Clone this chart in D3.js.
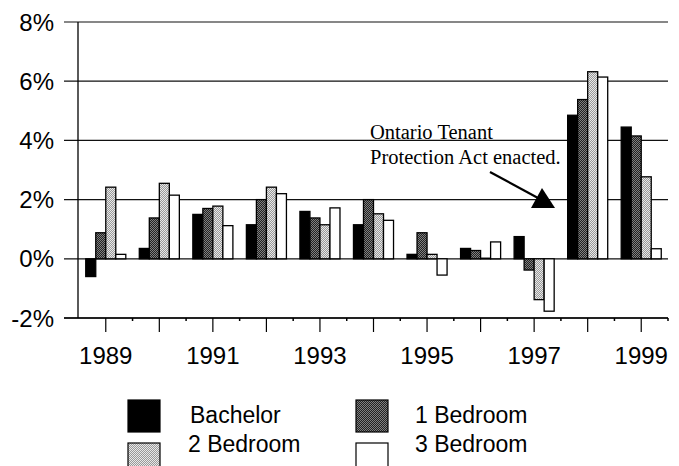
<!DOCTYPE html>
<html><head><meta charset="utf-8">
<script src="https://cdn.jsdelivr.net/npm/d3@7"></script>
<style>body{margin:0;background:#fff}svg{display:block}</style>
</head><body>
<svg id="c" width="679" height="466"></svg>
<script>
const years = ["1989","1990","1991","1992","1993","1994","1995","1996","1997","1998","1999"];
const tickYears = ["1989","1991","1993","1995","1997","1999"];
const seriesNames = ["Bachelor","1 Bedroom","2 Bedroom","3 Bedroom"];
const bachelor = [-0.6, 0.35, 1.5, 1.15, 1.6, 1.15, 0.15, 0.35, 0.75, 4.85, 4.45];
const bed1 = [0.88, 1.38, 1.7, 2.0, 1.38, 2.0, 0.88, 0.28, -0.38, 5.38, 4.15];
const bed2 = [2.42, 2.55, 1.78, 2.42, 1.15, 1.52, 0.15, 0.02, -1.38, 6.32, 2.77];
const bed3 = [0.15, 2.15, 1.12, 2.2, 1.72, 1.3, -0.55, 0.57, -1.77, 6.14, 0.34];
const yTicks = [-2, 0, 2, 4, 6, 8];
const annotation = ["Ontario Tenant", "Protection Act enacted."];

const seriesValues = [bachelor, bed1, bed2, bed3];
const svg = d3.select("#c");
const defs = svg.append("defs");
function checker(id, a, b){
  const p = defs.append("pattern").attr("id", id).attr("width", 2).attr("height", 2)
    .attr("patternUnits", "userSpaceOnUse");
  p.append("rect").attr("width", 2).attr("height", 2).attr("fill", a);
  p.append("rect").attr("width", 1).attr("height", 1).attr("fill", b);
  p.append("rect").attr("x", 1).attr("y", 1).attr("width", 1).attr("height", 1).attr("fill", b);
}
checker("p1", "#222", "#808080");
checker("p2", "#999", "#e8e8e8");
const fills = ["#000", "url(#p1)", "url(#p2)", "#fff"];

const L = 78, R = 668, T = 22, B = 318;
const y = d3.scaleLinear().domain([-2, 8]).range([B, T]);
const x0 = d3.scaleBand().domain(years).range([L + 1, R]).paddingInner(0.252).paddingOuter(0.126);
const x1 = d3.scaleBand().domain(seriesNames).range([0, x0.bandwidth()]);
const font = "'Liberation Sans', Arial, sans-serif";

// gridlines
svg.append("g").selectAll("line").data(yTicks).join("line")
  .attr("x1", 64).attr("x2", R).attr("y1", d => y(d)).attr("y2", d => y(d))
  .attr("stroke", "#111").attr("stroke-width", 1.2);

// y labels
svg.append("g").selectAll("text").data(yTicks).join("text")
  .attr("x", 54).attr("y", d => y(d)).attr("dy", "0.36em")
  .attr("text-anchor", "end").attr("font-family", font).attr("font-size", 24)
  .attr("fill", "#000").text(d => d + "%");

// bars
const g = svg.append("g");
seriesNames.forEach((s, si) => {
  g.append("g").selectAll("rect").data(seriesValues[si]).join("rect")
    .attr("x", (d, i) => x0(years[i]) + x1(s))
    .attr("y", d => y(Math.max(0, d)))
    .attr("width", x1.bandwidth())
    .attr("height", d => Math.abs(y(d) - y(0)))
    .attr("fill", fills[si]).attr("stroke", "#000").attr("stroke-width", 1.3);
});

// axes
svg.append("line").attr("x1", L).attr("x2", L).attr("y1", T).attr("y2", B)
  .attr("stroke", "#000").attr("stroke-width", 1.3);
svg.append("line").attr("x1", 64).attr("x2", R).attr("y1", B).attr("y2", B)
  .attr("stroke", "#000").attr("stroke-width", 1.3);
// long ticks at category centers
svg.append("g").selectAll("line").data(years).join("line")
  .attr("x1", d => x0(d) + x0.bandwidth() / 2).attr("x2", d => x0(d) + x0.bandwidth() / 2)
  .attr("y1", B).attr("y2", B + 14).attr("stroke", "#000").attr("stroke-width", 1.2);
// small ticks at boundaries
svg.append("g").selectAll("line").data(years).join("line")
  .attr("x1", d => x0(d) + x0.bandwidth() / 2 + x0.step() / 2)
  .attr("x2", d => x0(d) + x0.bandwidth() / 2 + x0.step() / 2)
  .attr("y1", B).attr("y2", B + 3).attr("stroke", "#000").attr("stroke-width", 1.5);
// x labels
svg.append("g").selectAll("text").data(tickYears).join("text")
  .attr("x", d => x0(d) + x0.bandwidth() / 2).attr("y", 364)
  .attr("text-anchor", "middle").attr("font-family", font).attr("font-size", 24)
  .attr("fill", "#000").text(d => d);

// annotation
const annY = [139, 164];
svg.append("g").selectAll("text").data(annotation).join("text")
  .attr("x", 370).attr("y", (d, i) => annY[i])
  .attr("font-family", "'Liberation Serif', 'Times New Roman', serif").attr("font-size", 20.5)
  .attr("fill", "#000").text(d => d);
svg.append("line").attr("x1", 490).attr("y1", 172).attr("x2", 538).attr("y2", 198)
  .attr("stroke", "#000").attr("stroke-width", 2.2);
svg.append("path").attr("d", "M542,188 L531,208 L555,208 Z").attr("fill", "#000");

// legend
const legPos = [[128, 400, 190, 423], [356, 400, 415, 423], [128, 443, 188, 452], [356, 443, 415, 452]];
const lg = svg.append("g");
seriesNames.forEach((s, i) => {
  const p = legPos[i];
  lg.append("rect").attr("x", p[0]).attr("y", p[1]).attr("width", 32).attr("height", 32)
    .attr("fill", fills[i]).attr("stroke", "#000").attr("stroke-width", 1.2);
  lg.append("text").attr("x", p[2]).attr("y", p[3]).attr("font-family", font)
    .attr("font-size", 23).attr("fill", "#000").text(s);
});
</script>
</body></html>
